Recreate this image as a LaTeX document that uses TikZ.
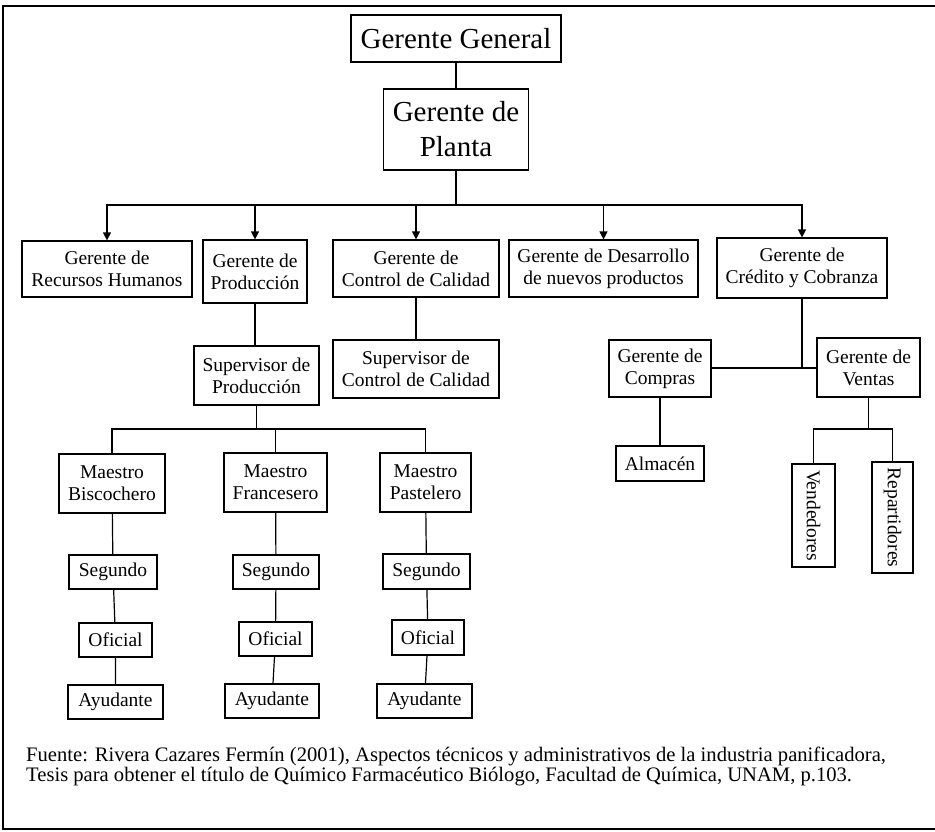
\documentclass[tikz,border=0pt]{standalone}
\usepackage{fontspec}
\setmainfont{Liberation Serif}
\usetikzlibrary{arrows.meta}

% font sizes used in the chart
\newcommand{\bigtxt}{\fontsize{29}{35}\selectfont}
\newcommand{\boxtxt}{\fontsize{19.5}{22}\selectfont}
\newcommand{\notetxt}{\fontsize{20.6}{19.5}\selectfont}

\tikzset{
  unit/.style={draw, line width=1.2pt, inner sep=0pt, align=center, font=\boxtxt},
  topunit/.style={unit, font=\bigtxt},
  sz/.style 2 args={minimum width=#1pt, minimum height=#2pt},
  link/.style={line width=1.2pt},
  down/.style={link, -{Triangle[length=8pt,width=8pt]}},
}

\begin{document}
\begin{tikzpicture}[x=1pt,y=1pt]
\useasboundingbox (0,0) rectangle (935,-831);

% outer frame (open on the right)
\draw[line width=1.5pt] (935,-6) -- (3,-6) -- (3,-829) -- (935,-829);

% top management
\node[topunit, sz={210}{47}] (gg) at (456,-38.5) {Gerente General};
\node[topunit, sz={145}{81}] (gp) at (456,-129.5) {Gerente de\\Planta};

% second level
\node[unit, sz={170}{56}] (rh)   at (107,-269)   {Gerente de\\Recursos Humanos};
\node[unit, sz={104}{63}] (prod) at (255,-271.5) {Gerente de\\Producción};
\node[unit, sz={166}{57}] (cc)   at (416,-268.5) {Gerente de\\Control de Calidad};
\node[unit, sz={189}{57}] (des)  at (603.5,-268.5) {Gerente de Desarrollo\\de nuevos productos};
\node[unit, sz={170}{60}] (cred) at (802,-268)   {Gerente de\\Crédito y Cobranza};

% supervisors and sub-managers
\node[unit, sz={125}{59}] (supp)  at (256.5,-375.5) {Supervisor de\\Producción};
\node[unit, sz={166}{58}] (supcc) at (416,-369)     {Supervisor de\\Control de Calidad};
\node[unit, sz={102}{57}] (comp)  at (660,-368.5)   {Gerente de\\Compras};
\node[unit, sz={103}{59}] (vent)  at (868.5,-367.5) {Gerente de\\Ventas};
\node[unit, sz={88}{35}]  (alm)   at (660,-463.5)   {Almacén};
\node[unit, sz={43}{103}] (vend)  at (813.5,-515.5) {\rotatebox{-90}{Vendedores}};
\node[unit, sz={41}{111}] (rep)   at (892.5,-517.5) {\rotatebox{-90}{Repartidores}};

% master bakers
\node[unit, sz={106}{59}] (mb) at (112,-483.5)   {Maestro\\Biscochero};
\node[unit, sz={103}{59}] (mf) at (275.5,-482.5) {Maestro\\Francesero};
\node[unit, sz={91}{59}]  (mp) at (425.5,-482.5) {Maestro\\Pastelero};

% bakery crews
\node[unit, sz={88}{34}] (s1) at (113,-572)    {Segundo};
\node[unit, sz={86}{34}] (s2) at (276,-572)    {Segundo};
\node[unit, sz={87}{35}] (s3) at (426.5,-571.5) {Segundo};
\node[unit, sz={73}{34}] (o1) at (115.5,-640)  {Oficial};
\node[unit, sz={73}{34}] (o2) at (275.5,-639)  {Oficial};
\node[unit, sz={72}{35}] (o3) at (428,-637.5)  {Oficial};
\node[unit, sz={95}{34}] (a1) at (115.5,-702)  {Ayudante};
\node[unit, sz={94}{34}] (a2) at (272,-701)    {Ayudante};
\node[unit, sz={95}{34}] (a3) at (424.5,-701)  {Ayudante};

% connectors: top of the chart
\draw[link] (gg) -- (gp);
\coordinate (bus1) at (456,-205);
\draw[link] (gp.south) -- (bus1);
\draw[down] (bus1) -| (rh.north);
\draw[down] (bus1) -| (prod.north);
\draw[down] (bus1) -| (cc.north);
\draw[down] (bus1) -| (des.north);
\draw[down] (bus1) -| (cred.north);

% production branch
\draw[link] (prod.south) -- (prod.south |- supp.north);
\coordinate (bus2) at (256.5,-429);
\draw[link] (supp.south) -- (bus2);
\draw[link] (bus2) -| (mb.north);
\draw[link] (bus2) -| (mf.north);
\draw[link] (bus2) -| (mp.north);
\draw[link] (mb) -- (s1) -- (o1) -- (a1);
\draw[link] (mf) -- (s2) -- (o2) -- (a2);
\draw[link] (mp) -- (s3) -- (o3) -- (a3);

% quality branch
\draw[link] (cc) -- (supcc);

% credit branch
\coordinate (bus3) at (802,-368);
\draw[link] (cred.south) -- (bus3);
\draw[link] (comp.east |- bus3) -- (vent.west |- bus3);
\draw[link] (comp) -- (alm);
\coordinate (bus4) at (868.5,-429);
\draw[link] (vent.south) -- (bus4);
\draw[link] (bus4) -| (vend.north);
\draw[link] (bus4) -| (rep.north);

% source note (anchored on the baseline of its last line)
\node[anchor=base west, align=left, font=\notetxt, inner sep=0pt] (src) at (26,-781)
  {Fuente: Rivera Cazares Fermín (2001), Aspectos técnicos y administrativos de la industria panificadora,\\
   Tesis para obtener el título de Químico Farmacéutico Biólogo, Facultad de Química, UNAM, p.103.};
\end{tikzpicture}
\end{document}
